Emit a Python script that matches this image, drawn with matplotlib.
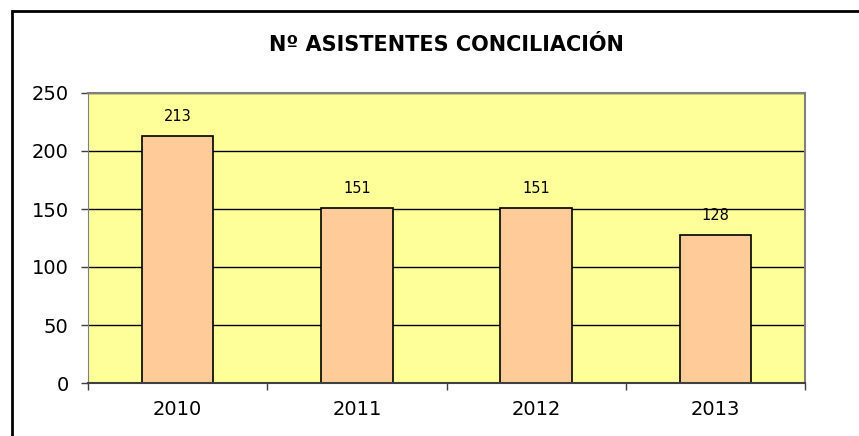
import matplotlib.pyplot as plt
from matplotlib.patches import Rectangle

years = ['2010', '2011', '2012', '2013']
asistentes = [213, 151, 151, 128]
yticks = [0, 50, 100, 150, 200, 250]

fig = plt.figure(figsize=(8.59, 4.36), dpi=100)
ax = fig.add_axes([88 / 859, 1 - 383 / 436, (805 - 88) / 859, (383 - 93) / 436])

# outer chart frame, cut off at right and bottom like the original
fig.patches.append(Rectangle((11.5 / 859, -0.05), 1.0, 1 - 11 / 436 + 0.05,
                             transform=fig.transFigure, fill=False,
                             edgecolor='black', linewidth=2, zorder=0))

ax.set_facecolor('#ffff99')
ax.set_axisbelow(True)
ax.yaxis.grid(True, color='black', linewidth=1)

x = range(len(years))
bars = ax.bar(x, asistentes, width=0.4, color='#ffcc99', edgecolor='black', linewidth=1.2)
for xi, v in zip(x, asistentes):
    ax.text(xi, v + 10, str(v), ha='center', va='bottom', fontsize=10.5)

ax.set_xlim(-0.5, len(years) - 0.5)
ax.set_ylim(0, 250)
ax.set_yticks(yticks)
ax.tick_params(axis='y', labelsize=14, length=5, color='#404040', width=1, pad=9)
ax.set_xticks(list(x))
ax.set_xticklabels(years)
ax.set_xticks([i - 0.5 for i in range(len(years) + 1)], minor=True)
ax.tick_params(axis='x', which='major', length=0, labelsize=14, pad=12)
ax.tick_params(axis='x', which='minor', length=5, color='#404040', width=1)

for side in ['top', 'right']:
    ax.spines[side].set_color('#808080')
    ax.spines[side].set_linewidth(1.5)
ax.spines['left'].set_color('#808080')
ax.spines['bottom'].set_color('#404040')
ax.spines['bottom'].set_linewidth(1.5)

fig.text(446 / 859, 1 - 45 / 436, 'Nº ASISTENTES CONCILIACIÓN', ha='center', va='center',
         fontsize=15, fontweight='bold')

fig.savefig('out.png', dpi=100)
